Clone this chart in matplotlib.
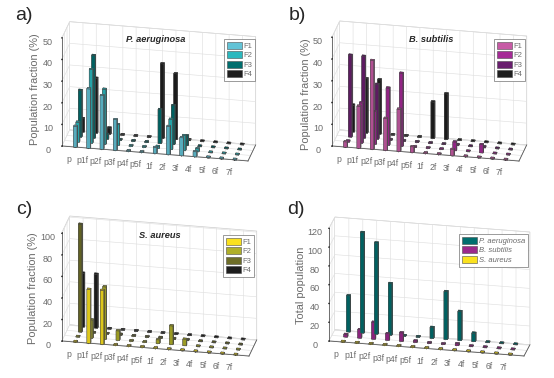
import matplotlib

matplotlib.use("Agg")
import matplotlib.pyplot as plt
import numpy as np
from matplotlib.patches import Patch
from mpl_toolkits.mplot3d import proj3d

plt.rcParams["font.family"] = ["Liberation Sans", "DejaVu Sans"]

cats = ["p", "p1f", "p2f", "p3f", "p4f", "p5f", "1f", "2f", "3f", "4f", "5f", "6f", "7f"]

# Panel a, P. aeruginosa
pa_f1 = [9.6, 27.4, 24.8, 14.2, 0, 0, 2.8, 13, 8.3, 2.3, 0, 0, 0]
pa_f2 = [9.2, 34, 25.4, 9.6, 0, 0, 1, 14, 7, 1.4, 0, 0, 0]
pa_f3 = [21.6, 38.2, 2.3, 0, 0, 0, 15.7, 18, 4.6, 0, 0, 0, 0]
pa_f4 = [6.3, 25.4, 2.9, 0, 0, 0, 34.5, 30.4, 0.5, 0, 0, 0, 0]

# Panel b, B. subtilis
bs_f1 = [2.4, 19.3, 40.8, 14.7, 19.4, 2.6, 0, 0, 2.9, 0, 0, 0, 0]
bs_f2 = [0.5, 18.5, 15, 26.3, 33.6, 0, 0, 0, 4, 0, 3.8, 0, 0]
bs_f3 = [37.6, 37.6, 25.2, 0, 0, 0, 0, 0, 0.5, 0, 0.5, 0, 0]
bs_f4 = [12.4, 25, 25, 0, 0, 0, 16.8, 21, 0, 0, 0, 0, 0]

# Panel c, S. aureus
sa_f1 = [0, 50, 50, 0, 0, 0, 0, 0, 0, 0, 0, 0, 0]
sa_f2 = [0, 17, 48.6, 8.8, 0, 0, 3.4, 17.4, 6, 0, 0, 0, 0]
sa_f3 = [100, 0, 0, 1, 0, 0, 1, 1, 1, 0, 0, 0, 0]
sa_f4 = [50, 50, 0, 0, 0, 0, 0, 0, 0, 0, 0, 0, 0]

# Panel d, totals
tot_sa = [0, 0, 0, 0, 0, 0, 0, 0, 0, 0, 0, 0, 0]
tot_bs = [2.8, 9, 18, 7, 9, 1.5, 0, 0, 2, 0, 0, 0, 0]
tot_pa = [38.5, 107, 97, 55, 0, 0, 11.7, 51, 31, 9, 0, 0, 0]

teals = ["#62C3D6", "#2BB8BE", "#006E6E", "#1E1E1E"]
purples = ["#C75AA5", "#A52A96", "#691E6E", "#1E1E1E"]
yellows = ["#FAE11E", "#AFAF28", "#6E6E28", "#1E1E1E"]
totals_col = ["#FAE11E", "#9B288C", "#006E6E"]

grey = "0.42"
fig = plt.figure(figsize=(5.54, 3.78), dpi=100)
W, H = 554, 378


def to_px(ax, x, y, z):
    a = proj3d.proj_transform(x, y, z, ax.get_proj())
    return ax.transData.transform(a[:2])


def place(ax, ox, oy, width):
    # resize and shift the square axes so the floor corner lands on a pixel
    xl, yl, zl = ax.get_xlim(), ax.get_ylim(), ax.get_zlim()
    size = 300
    for i in range(2):
        ax.set_position([0.2, 0.2, size / W, size / H])
        pa = to_px(ax, xl[0], yl[0], zl[0])
        pb = to_px(ax, xl[1], yl[0], zl[0])
        size = size * width / (pb[0] - pa[0])
    ax.set_position([0.2, 0.2, size / W, size / H])
    pa = to_px(ax, xl[0], yl[0], zl[0])
    x0 = 0.2 + (ox - pa[0]) / W
    y0 = 0.2 + ((H - oy) - pa[1]) / H
    ax.set_position([x0, y0, size / W, size / H])


def panel(series, colors, zmax, zticks, box, view, origin, ylim):
    ax = fig.add_subplot(projection="3d", proj_type="ortho")
    ax.patch.set_alpha(0)
    ax.view_init(elev=view[0], azim=view[1])
    ax.set_xlim(0, 14)
    ax.set_ylim(*ylim)
    ax.set_zlim(0, zmax)
    ax.set_box_aspect(box)

    # flat stubs are still drawn where a value is zero
    xs, ys, hs, cs = [], [], [], []
    for row, vals in enumerate(series):
        for k, v in enumerate(vals):
            xs.append(k + 1)
            ys.append(row + 1)
            hs.append(max(v, zmax * 0.006))
            cs.append(colors[row])
    xs = np.array(xs, dtype=float)
    ys = np.array(ys, dtype=float)
    ax.bar3d(xs - 0.13, ys - 0.13, np.zeros(len(xs)), 0.26, 0.26, hs, color=cs,
             edgecolor="0.3", linewidth=0.3, shade=True)

    ax.set_xticks(np.arange(1, 14))
    ax.xaxis.set_major_formatter(matplotlib.ticker.NullFormatter())
    ax.set_yticks(np.arange(1, len(series) + 1))
    ax.yaxis.set_major_formatter(matplotlib.ticker.NullFormatter())
    ax.set_zticks(zticks)
    ax.set_zticklabels([str(z) for z in zticks], fontsize=6.5, color=grey)
    ax.tick_params(axis="z", pad=-2)
    ax.zaxis.set_ticks_position("lower")

    for axis in [ax.xaxis, ax.yaxis, ax.zaxis]:
        axis.set_pane_color((1, 1, 1, 1))
        axis.pane.set_edgecolor("0.8")
        axis.pane.set_linewidth(0.5)
        axis.line.set_color("0.35")
        axis.line.set_linewidth(0.6)
        axis._axinfo["grid"].update(color="0.88", linewidth=0.45)
        axis._axinfo["tick"].update(color="0.35")
    ax.yaxis._axinfo["tick"].update(inward_factor=0, outward_factor=0)
    place(ax, origin[0], origin[1], origin[2])

    # x labels sit out along the depth direction, like the tick stubs
    for k, c in enumerate(cats):
        p = to_px(ax, k + 1, ylim[0] - 2.5, 0)
        fig.text(p[0] / W, p[1] / H, c, fontsize=6.2, color=grey, ha="center", va="center")
    return ax


panel([pa_f1, pa_f2, pa_f3, pa_f4], teals, 50, [0, 10, 20, 30, 40, 50],
      (190, 40, 119), (24.2, -78.9), (62, 146, 186), (0.9, 4.1))
panel([bs_f1, bs_f2, bs_f3, bs_f4], purples, 50, [0, 10, 20, 30, 40, 50],
      (190, 40, 119), (24.2, -78.9), (332, 146, 187), (0.9, 4.1))
panel([sa_f1, sa_f2, sa_f3, sa_f4], yellows, 101, [0, 20, 40, 60, 80, 100],
      (190, 40, 119), (24.2, -78.9), (62, 341, 187), (0.9, 4.1))
panel([tot_sa, tot_bs, tot_pa], totals_col, 120, [0, 20, 40, 60, 80, 100, 120],
      (199, 30, 122), (22.4, -78.6), (329, 341, 195), (0.9, 3.1))


def txt(x, y, s, **kw):
    fig.text(x / W, 1 - y / H, s, ha="center", va="center", **kw)


# Panel letters
txt(24, 16, "a)", fontsize=14, color="0.15")
txt(297, 15, "b)", fontsize=14, color="0.15")
txt(24, 209, "c)", fontsize=14, color="0.15")
txt(296, 209, "d)", fontsize=14, color="0.15")

# Axis names
txt(35, 89, "Population fraction (%)", fontsize=7.9, color=grey, rotation=90)
txt(306, 94, "Population fraction (%)", fontsize=7.9, color=grey, rotation=90)
txt(33, 288, "Population fraction (%)", fontsize=7.9, color=grey, rotation=90)
txt(301, 285, "Total population", fontsize=7.9, color=grey, rotation=90)

# Panel titles
txt(156, 40, "P. aeruginosa", fontsize=6.7, fontweight="bold", fontstyle="italic", color="0.15")
txt(431, 40, "B. subtilis", fontsize=6.7, fontweight="bold", fontstyle="italic", color="0.15")
txt(160, 235, "S. aureus", fontsize=6.7, fontweight="bold", fontstyle="italic", color="0.15")


def legend(x, y, names, colors, style="normal"):
    handles = [Patch(facecolor=c, edgecolor="0.3", linewidth=0.4, label=n) for c, n in zip(colors, names)]
    leg = fig.legend(handles=handles, loc="upper left", bbox_to_anchor=(x / W, 1 - y / H),
                     fontsize=5.5, frameon=True, fancybox=False, framealpha=1, edgecolor="0.45",
                     borderpad=0.35, labelspacing=0.2, handlelength=1.96, handleheight=1.0,
                     handletextpad=0.27, borderaxespad=0, labelcolor=grey)
    leg.get_frame().set_linewidth(0.5)
    for t in leg.get_texts():
        t.set_fontstyle(style)


legend(224, 39, ["F1", "F2", "F3", "F4"], teals)
legend(494, 39, ["F1", "F2", "F3", "F4"], purples)
legend(223, 235, ["F1", "F2", "F3", "F4"], yellows)
legend(459, 234, ["P. aeruginosa", "B. subtilis", "S. aureus"],
       [totals_col[2], totals_col[1], totals_col[0]], style="italic")

fig.savefig("out.png", dpi=100)
